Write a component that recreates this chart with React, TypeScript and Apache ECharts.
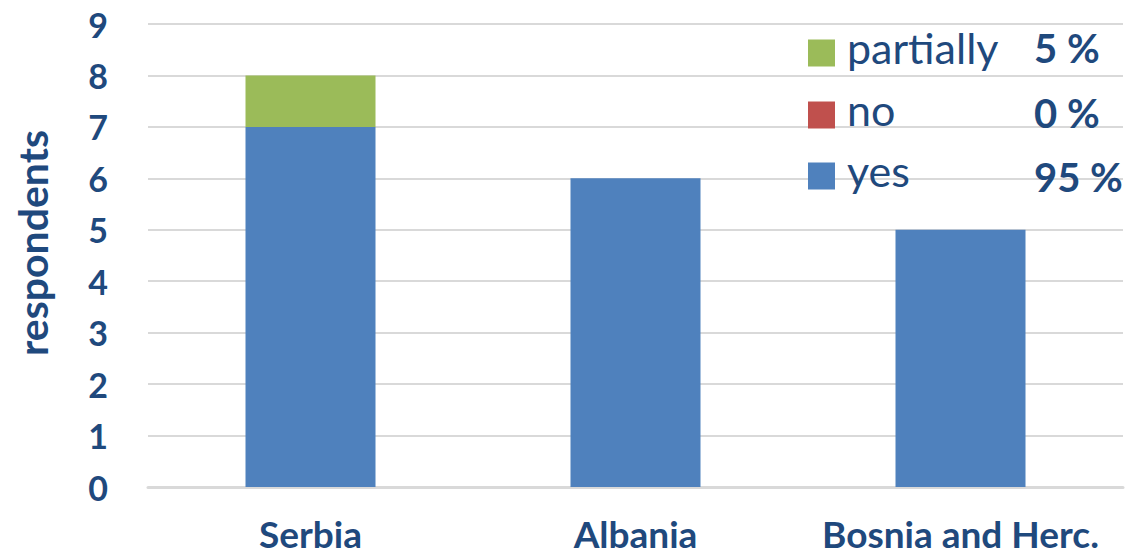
import React, { useEffect, useRef } from "react";
import * as echarts from "echarts";

const categories = ["Serbia", "Albania", "Bosnia and Herc."];
const yesValues = [7, 6, 5];
const noValues = [0, 0, 0];
const partiallyValues = [1, 0, 0];
const legendNames = ["partially", "no", "yes"];
const legendShares = ["5 %", "0 %", "95 %"];
const yTicks = [0, 1, 2, 3, 4, 5, 6, 7, 8, 9];

const TEXT = "#1F497D";
const FONT = "Lato, 'Open Sans', sans-serif";

export default function App() {
  const ref = useRef<HTMLDivElement>(null);
  useEffect(() => {
    if (!ref.current) return;
    const chart = echarts.init(ref.current, undefined, { renderer: "svg" });
    const shareCenters = [48, 113, 177];
    const squareCenters = [53, 115, 176];
    chart.setOption({
      animation: false,
      textStyle: { fontFamily: FONT },
      grid: { left: 148, right: 18, top: 24, bottom: 70, containLabel: false },
      legend: legendNames.map((n, i) => ({
        data: [n],
        orient: "vertical",
        left: 808,
        top: squareCenters[i] - 27,
        padding: 0,
        itemWidth: 27,
        itemHeight: 27,
        icon: "rect",
        selectedMode: false,
        formatter: "{a|{name}}",
        textStyle: {
          color: TEXT,
          fontSize: 43,
          fontFamily: FONT,
          rich: {
            a: {
              color: TEXT,
              fontSize: 43,
              fontFamily: FONT,
              lineHeight: 30,
              padding: [0, 0, 11, 7],
            },
          },
        },
      })),
      xAxis: {
        type: "category",
        data: categories,
        axisLine: { show: true, lineStyle: { color: "#D9D9D9", width: 3 } },
        axisTick: { show: false },
        axisLabel: {
          color: TEXT,
          fontSize: 37,
          lineHeight: 34,
          fontWeight: "bold",
          margin: 29,
          interval: 0,
          hideOverlap: false,
          fontFamily: FONT,
        },
      },
      yAxis: {
        type: "value",
        min: yTicks[0],
        max: yTicks[yTicks.length - 1],
        interval: 1,
        axisLine: { show: false },
        axisTick: { show: false },
        splitLine: { lineStyle: { color: "#D9D9D9", width: 2 } },
        axisLabel: { color: TEXT, fontSize: 34, fontWeight: "bold", margin: 40, fontFamily: FONT },
      },
      graphic: [
        {
          type: "text",
          x: 32,
          y: 243,
          z: 100,
          rotation: Math.PI / 2,
          style: {
            text: "respondents",
            fill: TEXT,
            font: `bold 41px ${FONT}`,
            align: "center",
            verticalAlign: "middle",
          },
        },
        ...legendShares.map((s, i) => ({
          type: "text",
          x: 1034,
          y: shareCenters[i],
          z: 100,
          style: {
            text: s,
            fill: TEXT,
            font: `bold 40px ${FONT}`,
            align: "left",
            verticalAlign: "middle",
          },
        })),
      ],
      series: [
        {
          name: "yes",
          type: "bar",
          stack: "a",
          data: yesValues,
          barWidth: "40%",
          itemStyle: { color: "#4F81BD" },
        },
        {
          name: "no",
          type: "bar",
          stack: "a",
          data: noValues,
          barWidth: "40%",
          itemStyle: { color: "#C0504D" },
        },
        {
          name: "partially",
          type: "bar",
          stack: "a",
          data: partiallyValues,
          barWidth: "40%",
          itemStyle: { color: "#9BBB59" },
        },
      ],
    });
    return () => chart.dispose();
  }, []);
  return (
    <div
      ref={ref}
      style={{ position: "absolute", left: 0, top: 0, width: 1141, height: 557, background: "#fff" }}
    />
  );
}
